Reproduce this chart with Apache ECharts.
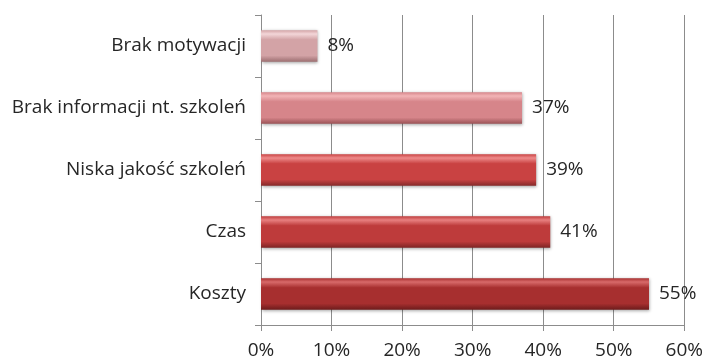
<!DOCTYPE html>
<html>
<head>
<meta charset="utf-8">
<script src="https://cdn.jsdelivr.net/npm/echarts@6/dist/echarts.min.js"></script>
<style>
  html, body { margin: 0; padding: 0; background: #ffffff; }
  #chart { width: 706px; height: 360px; }
</style>
</head>
<body>
<div id="chart"></div>
<script>
// Reasons for not taking part in training (share of respondents, %)
const categories = ['Brak motywacji', 'Brak informacji nt. szkoleń', 'Niska jakość szkoleń', 'Czas', 'Koszty'];
const values = [8, 37, 39, 41, 55];
const xTicks = [0, 10, 20, 30, 40, 50, 60];

// Per-bar shading: [top highlight, body, bottom edge]
const shades = [
  ['#f3d6d8', '#d3a3a6', '#9c6e70'],
  ['#f2b4b6', '#d6858a', '#9a5256'],
  ['#ee8a8a', '#c94242', '#842828'],
  ['#e88080', '#be3b3b', '#7d2424'],
  ['#d86a6a', '#a72f2f', '#6c1b1b']
];

function barGradient(s) {
  return new echarts.graphic.LinearGradient(0, 0, 0, 1, [
    { offset: 0, color: s[1] },
    { offset: 0.12, color: s[0] },
    { offset: 0.3, color: s[1] },
    { offset: 0.8, color: s[1] },
    { offset: 1, color: s[2] }
  ]);
}

const font = 'Open Sans';
const textColor = '#262626';
const fontSize = 19;
const chart = echarts.init(document.getElementById('chart'));
chart.setOption({
  animation: false,
  grid: { left: 261, right: 21, top: 15, bottom: 35 },
  xAxis: {
    type: 'value',
    min: xTicks[0],
    max: xTicks[xTicks.length - 1],
    interval: 10,
    axisLine: { show: true, lineStyle: { color: '#8c8c8c' } },
    axisTick: { show: true, length: 6, lineStyle: { color: '#8c8c8c' } },
    splitLine: { show: true, lineStyle: { color: '#8c8c8c', width: 1 } },
    axisLabel: {
      formatter: v => v + '%',
      fontFamily: font, fontSize: fontSize, color: textColor, margin: 16
    }
  },
  yAxis: {
    type: 'category',
    data: categories,
    inverse: true,
    axisLine: { show: true, lineStyle: { color: '#8c8c8c' } },
    axisTick: { show: true, length: 6, alignWithLabel: false, lineStyle: { color: '#8c8c8c' } },
    axisLabel: { fontFamily: font, fontSize: fontSize, color: textColor, margin: 15 }
  },
  series: [{
    type: 'bar',
    barWidth: '51%',
    data: values.map((v, i) => ({
      value: v,
      itemStyle: {
        color: barGradient(shades[i]),
        shadowColor: 'rgba(0,0,0,0.35)',
        shadowBlur: 3,
        shadowOffsetX: 1,
        shadowOffsetY: 1
      }
    })),
    label: {
      show: true,
      position: 'right',
      distance: 10,
      formatter: p => p.value + '%',
      fontFamily: font, fontSize: fontSize, color: textColor
    }
  }]
});
</script>
</body>
</html>
